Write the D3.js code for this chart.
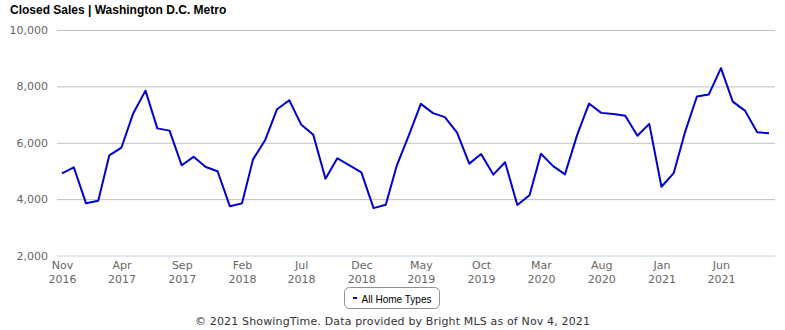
<!DOCTYPE html>
<html>
<head>
<meta charset="utf-8">
<script src="https://cdn.jsdelivr.net/npm/d3@7"></script>
<style>
  html, body { margin: 0; padding: 0; background: #fff; }
  svg { display: block; }
</style>
</head>
<body>
<svg id="chart" width="785" height="330"></svg>
<script>
// Monthly closed sales, Nov 2016 through Oct 2021
const startMonth = new Date(2016, 10, 1);
const closedSales = [
  4910, 5130, 3850, 3940, 5550, 5830, 7050, 7850, 6510, 6430,
  5200, 5500, 5140, 4990, 3750, 3850, 5410, 6100, 7190, 7510,
  6650, 6280, 4720, 5450, 5200, 4950, 3680, 3800, 5190, 6280,
  7380, 7050, 6910, 6360, 5260, 5600, 4870, 5310, 3790, 4140,
  5610, 5170, 4880, 6280, 7390, 7060, 7020, 6960, 6250, 6670,
  4440, 4920, 6340, 7640, 7710, 8650, 7460, 7140, 6370, 6340
];
const yTicks = [2000, 4000, 6000, 8000, 10000];
const seriesName = "All Home Types";
const titleText = "Closed Sales | Washington D.C. Metro";
const creditText = "\u00a9 2021 ShowingTime. Data provided by Bright MLS as of Nov 4, 2021";

const months = closedSales.map((v, i) => d3.timeMonth.offset(startMonth, i));
const data = months.map((m, i) => ({ date: m, value: closedSales[i] }));

const svg = d3.select("#chart");
const plot = { left: 57, right: 775, top: 30, bottom: 255.5 };

const x = d3.scaleTime()
  .domain([months[0], months[months.length - 1]])
  .range([62, 769]);
const y = d3.scaleLinear()
  .domain([2000, 10000])
  .range([plot.bottom, plot.top]);

// Title
svg.append("text")
  .attr("x", 10).attr("y", 14)
  .attr("font-family", "Liberation Sans, Arial, sans-serif")
  .attr("font-size", 12).attr("font-weight", "bold")
  .attr("fill", "#000")
  .text(titleText);

// Horizontal gridlines and y labels
const yAxis = d3.axisLeft(y).tickValues(yTicks)
  .tickSize(-(plot.right - plot.left))
  .tickFormat(d3.format(","))
  .tickPadding(9);
const gy = svg.append("g")
  .attr("transform", `translate(${plot.left},0)`)
  .call(yAxis);
gy.select(".domain").remove();
gy.selectAll(".tick line").attr("stroke", "#c0c0c0").attr("stroke-width", 1);
gy.selectAll(".tick").filter(d => d === 2000).select("line").attr("stroke", "#c0d0e0");
gy.selectAll(".tick text")
  .attr("font-family", "DejaVu Sans, sans-serif")
  .attr("font-size", 11)
  .attr("fill", "#666");

// X labels every 5 months, two lines
const xTickDates = months.filter((m, i) => i % 5 === 0);
const xAxis = d3.axisBottom(x).tickValues(xTickDates).tickSize(0).tickFormat("");
const gx = svg.append("g")
  .attr("transform", `translate(0,${plot.bottom})`)
  .call(xAxis);
gx.select(".domain").remove();
const lbl = gx.selectAll(".tick").append("text")
  .attr("font-family", "DejaVu Sans, sans-serif")
  .attr("font-size", 11)
  .attr("fill", "#666")
  .attr("text-anchor", "middle");
lbl.append("tspan").attr("x", 0).attr("y", 13).text(d => d3.timeFormat("%b")(d));
lbl.append("tspan").attr("x", 0).attr("y", 27).text(d => d3.timeFormat("%Y")(d));

// Series line
const line = d3.line().x(d => x(d.date)).y(d => y(d.value));
svg.append("path")
  .datum(data)
  .attr("fill", "none")
  .attr("stroke", "#0000d0")
  .attr("stroke-width", 2)
  .attr("stroke-linejoin", "round")
  .attr("d", line);

// Legend
const lg = svg.append("g").attr("transform", "translate(344.5,287.5)");
lg.append("rect")
  .attr("width", 95).attr("height", 21).attr("rx", 5)
  .attr("fill", "#fff").attr("stroke", "#909090").attr("stroke-width", 1);
lg.append("line")
  .attr("x1", 8.5).attr("x2", 12.5).attr("y1", 10.5).attr("y2", 10.5)
  .attr("stroke", "#0000d0").attr("stroke-width", 2);
lg.append("text")
  .attr("x", 17).attr("y", 15)
  .attr("font-family", "Liberation Sans, Arial, sans-serif")
  .attr("font-size", 11)
  .attr("textLength", 70).attr("lengthAdjust", "spacingAndGlyphs")
  .attr("fill", "#000")
  .text(seriesName);

// Credits
svg.append("text")
  .attr("x", 195).attr("y", 325)
  .attr("font-family", "DejaVu Sans, sans-serif")
  .attr("font-size", 11)
  .attr("textLength", 395).attr("lengthAdjust", "spacing")
  .attr("fill", "#333")
  .text(creditText);
</script>
</body>
</html>
